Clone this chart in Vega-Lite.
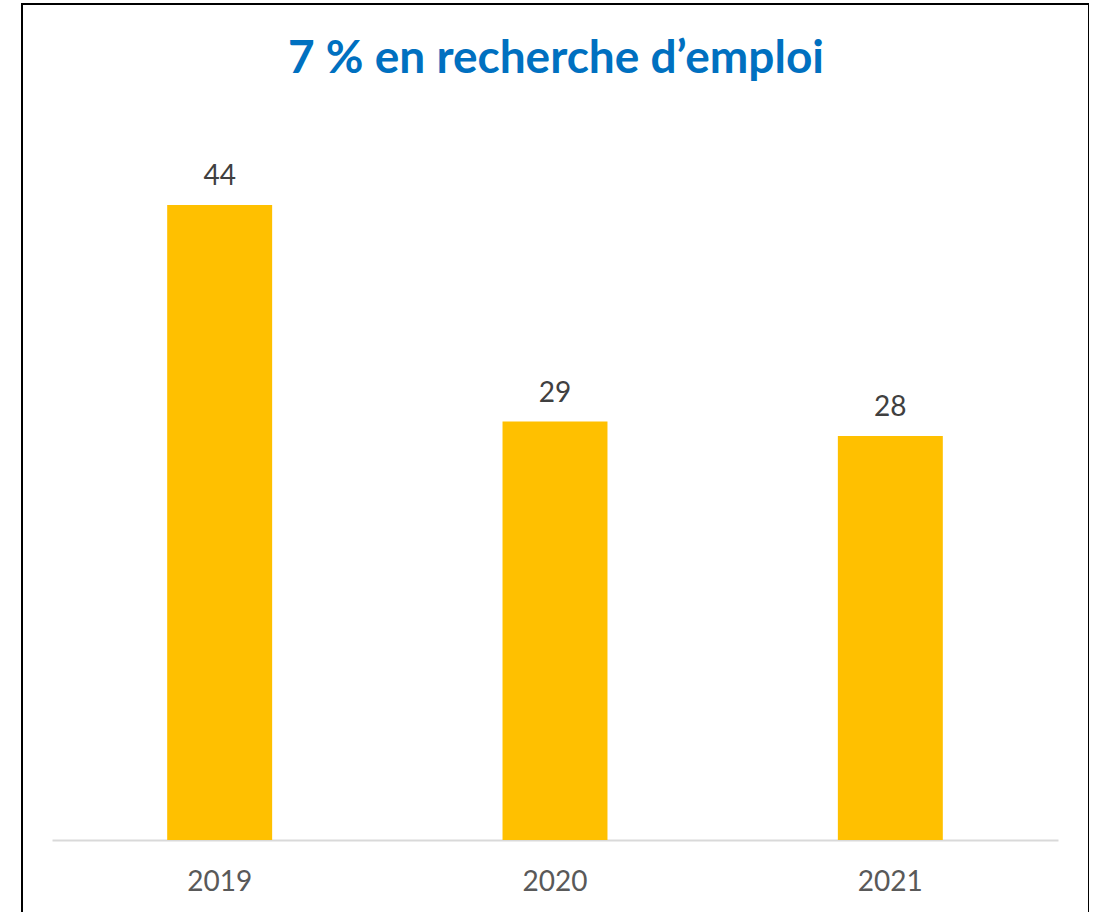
{
  "$schema": "https://vega.github.io/schema/vega-lite/v6.json",
  "autosize": "none",
  "padding": {"left": 22, "top": 4, "right": 0, "bottom": 0},
  "width": 1067,
  "height": 912,
  "background": "white",
  "config": {
    "view": {"stroke": "#000000", "strokeWidth": 2},
    "font": "Lato"
  },
  "data": {
    "values": [
      {"year": "2019", "value": 44},
      {"year": "2020", "value": 29},
      {"year": "2021", "value": 28}
    ]
  },
  "encoding": {
    "y": {
      "field": "value",
      "type": "quantitative",
      "scale": {"domain": [-5.267, 57.935], "nice": false, "zero": false},
      "axis": null
    }
  },
  "layer": [
    {
      "mark": {"type": "bar", "color": "#FFC000"},
      "encoding": {
        "x": {
          "field": "year",
          "type": "nominal",
          "sort": null,
          "scale": {"range": [30, 1036], "paddingInner": 0.687, "paddingOuter": 0.3435},
          "axis": {
            "title": null,
            "orient": "bottom",
            "offset": -76,
            "ticks": false,
            "grid": false,
            "domainColor": "#D9D9D9",
            "domainWidth": 2,
            "labelAngle": 0,
            "labelFont": "Lato",
            "labelFontSize": 28,
            "labelColor": "#595959",
            "labelPadding": 28
          }
        }
      }
    },
    {
      "mark": {"type": "text", "baseline": "alphabetic", "dy": -20, "fontSize": 28, "font": "Lato", "color": "#404040"},
      "encoding": {
        "x": {
          "field": "year",
          "type": "nominal",
          "sort": null,
          "axis": {
            "orient": "top",
            "title": "7 % en recherche d’emploi",
            "titleFont": "Lato",
            "titleFontSize": 46,
            "titleFontWeight": "bold",
            "titleColor": "#0070C0",
            "titleX": 533.5,
            "titleY": 68,
            "titleAlign": "center",
            "titleBaseline": "alphabetic",
            "titleAngle": 0,
            "labels": false,
            "ticks": false,
            "domain": false,
            "grid": false
          }
        },
        "text": {"field": "value", "type": "quantitative"}
      }
    }
  ]
}
